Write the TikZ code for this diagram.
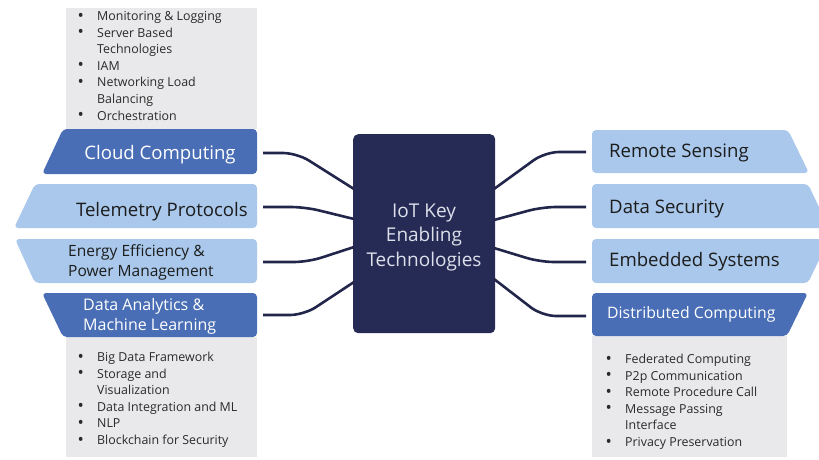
\documentclass[tikz,border=0pt]{standalone}
\usepackage{fontspec}
\usepackage{graphicx}
\setmainfont{Open Sans}
\definecolor{darkblue}{HTML}{4A6EB5}
\definecolor{lightblue}{HTML}{A9C8EB}
\definecolor{greybox}{HTML}{E9E9EB}
\definecolor{navy}{HTML}{262B55}
\definecolor{linenavy}{HTML}{22264A}
\definecolor{darktext}{HTML}{1C1C1C}
\definecolor{bullettext}{HTML}{2A2A2A}
\definecolor{centertext}{HTML}{DDE0EA}
\newcommand{\bul}{\makebox[20pt][l]{\hspace{0.5pt}\raisebox{-0.6pt}{\scalebox{1.35}{\textbullet}}}}
\begin{document}
\begin{tikzpicture}[x=1pt,y=-1pt,
  darkshape/.style={fill=darkblue,rounded corners=4pt},
  lightshape/.style={fill=lightblue,rounded corners=4pt},
  panel/.style={fill=greybox},
  big/.style={inner sep=0pt,font=\fontsize{18.6}{22}\selectfont,text=darktext},
  mid/.style={inner sep=0pt,text=darktext},
  list/.style={inner sep=0pt,text=bullettext,font=\fontsize{12.4}{16.6}\selectfont},
  link/.style={draw=linenavy,line width=2.6pt,rounded corners=14pt}]
\useasboundingbox (0,0) rectangle (819,459);
\clip (0,0) rectangle (819,459);

% grey panels
\fill[panel] (66,8) rectangle (257,129);
\fill[panel] (66,337) rectangle (257,457);
\fill[panel] (592,336) rectangle (787,457);

% left shapes
\fill[darkshape] (63,129) -- (257,129) -- (257,174) -- (42,174) -- cycle;
\fill[lightshape] (35,184) -- (257,184) -- (257,228) -- (14,228) -- cycle;
\fill[lightshape] (15,239) -- (257,239) -- (257,283) -- (35,283) -- cycle;
\fill[darkshape] (42,293) -- (257,293) -- (257,337) -- (63,337) -- cycle;

% right shapes
\fill[lightshape] (592,130) -- (788,130) -- (809,173) -- (592,173) -- cycle;
\fill[lightshape] (592,184) -- (808,184) -- (829,228) -- (592,228) -- cycle;
\fill[lightshape] (592,239) -- (829,239) -- (808,283) -- (592,283) -- cycle;
\fill[darkshape] (592,293) -- (808,293) -- (787,336) -- (592,336) -- cycle;

% centre box
\node[fill=navy,rounded corners=5pt,minimum width=142pt,minimum height=199pt,inner sep=0pt,anchor=north west] (hub) at (353,134) {};
\node[inner sep=0pt,anchor=base,text=centertext,font=\fontsize{19}{24.5}\selectfont] (hubtext) at (424,217.3)
  {\begin{tabular}[t]{@{}c@{}}IoT Key\\Enabling\\Technologies\end{tabular}};

% labels left
\node[big,anchor=base,text=white] (cloud) at (160,159) {Cloud Computing};
\node[big,anchor=base east] (telemetry) at (248,216) {Telemetry Protocols};
\node[mid,anchor=base west,font=\fontsize{15.5}{20.5}\selectfont] (energy) at (68,256)
  {\begin{tabular}[t]{@{}l@{}}Energy Efficiency \&\\Power Management\end{tabular}};
\node[mid,anchor=base west,text=white,font=\fontsize{16}{20}\selectfont] (analytics) at (83,310)
  {\begin{tabular}[t]{@{}l@{}}Data Analytics \&\\Machine Learning\end{tabular}};

% labels right
\node[big,anchor=base west] (remote) at (609,157.3) {Remote Sensing};
\node[big,anchor=base west] (security) at (609,213) {Data Security};
\node[big,anchor=base west] (embedded) at (609,266.7) {Embedded Systems};
\node[mid,anchor=base west,text=white,font=\fontsize{15.8}{20}\selectfont] (distributed) at (607,318.3) {Distributed Computing};

% bullet lists
\node[list,anchor=base west] (cloudlist) at (77,20.5)
  {\begin{tabular}[t]{@{}l@{}l@{}}
  \bul & Monitoring \& Logging\\
  \bul & Server Based\\
  & Technologies\\
  \bul & IAM\\
  \bul & Networking Load\\
  & Balancing\\
  \bul & Orchestration
  \end{tabular}};
\node[list,anchor=base west] (analyticslist) at (77,361.5)
  {\begin{tabular}[t]{@{}l@{}l@{}}
  \bul & Big Data Framework\\
  \bul & Storage and\\
  & Visualization\\
  \bul & Data Integration and ML\\
  \bul & NLP\\
  \bul & Blockchain for Security
  \end{tabular}};
\node[list,anchor=base west] (distributedlist) at (605,363.5)
  {\begin{tabular}[t]{@{}l@{}l@{}}
  \bul & Federated Computing\\
  \bul & P2p Communication\\
  \bul & Remote Procedure Call\\
  \bul & Message Passing\\
  & Interface\\
  \bul & Privacy Preservation
  \end{tabular}};

% connector end points
\coordinate (l1) at (263,153);
\coordinate (l2) at (263,207);
\coordinate (l3) at (263,262);
\coordinate (l4) at (263,315);
\coordinate (r1) at (586,152);
\coordinate (r2) at (586,207);
\coordinate (r3) at (586,262);
\coordinate (r4) at (586,316);
\coordinate (hl1) at (354,189);
\coordinate (hl2) at (354,219);
\coordinate (hl3) at (354,247);
\coordinate (hl4) at (354,282);
\coordinate (hr1) at (494,189);
\coordinate (hr2) at (494,220);
\coordinate (hr3) at (494,248);
\coordinate (hr4) at (494,279);

\draw[link] (l1) -- (297,153) -- (hl1);
\draw[link] (l2) -- (305,207) -- (hl2);
\draw[link] (l3) -- (308,262) -- (hl3);
\draw[link] (l4) -- (304,315) -- (hl4);
\draw[link] (r1) -- (545,152) -- (hr1);
\draw[link] (r2) -- (542,207) -- (hr2);
\draw[link] (r3) -- (540,262) -- (hr3);
\draw[link] (r4) -- (542,316) -- (hr4);
\end{tikzpicture}
\end{document}
